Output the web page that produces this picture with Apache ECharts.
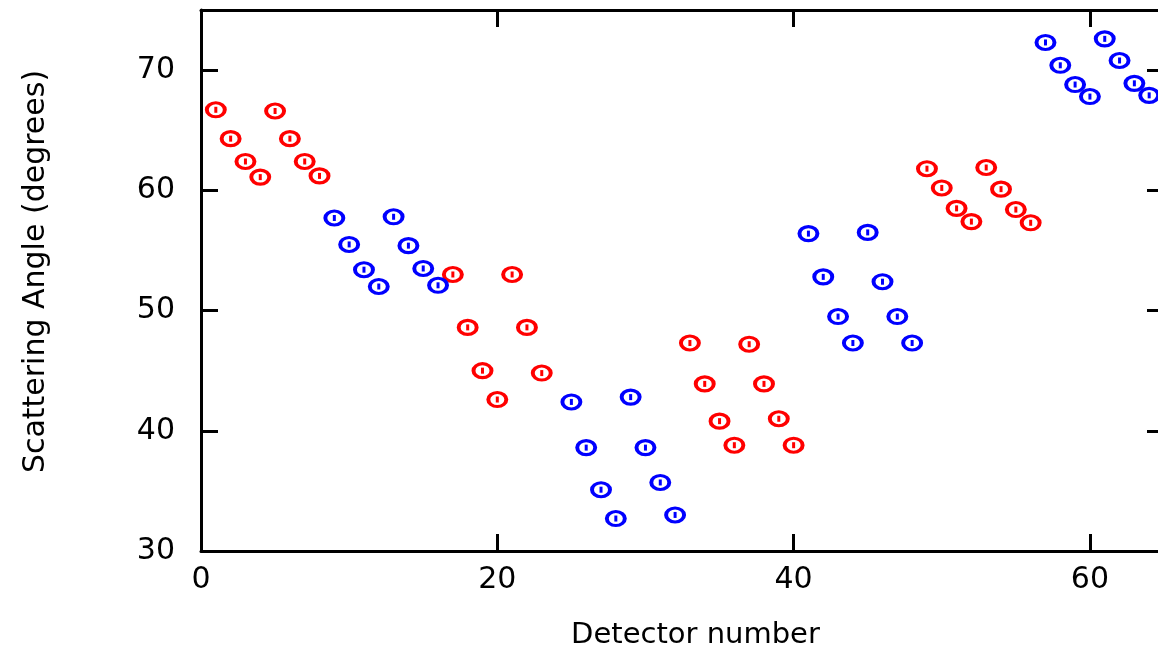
<!DOCTYPE html>
<html>
<head>
<meta charset="utf-8">
<script src="https://cdn.jsdelivr.net/npm/echarts@6/dist/echarts.min.js"></script>
<style>
  html, body { margin: 0; padding: 0; background: #fff; }
  #chart { width: 1158px; height: 652px; }
</style>
</head>
<body>
<div id="chart"></div>
<script>
// detector numbers and scattering angles (degrees), red and blue groups
const redDetectors = [1, 2, 3, 4, 5, 6, 7, 8, 17, 18, 19, 20, 21, 22, 23, 33, 34, 35, 36, 37, 38, 39, 40, 49, 50, 51, 52, 53, 54, 55, 56];
const redAngles = [66.7, 64.3, 62.4, 61.1, 66.6, 64.3, 62.4, 61.2, 53.0, 48.6, 45.0, 42.6, 53.0, 48.6, 44.8, 47.3, 43.9, 40.8, 38.8, 47.2, 43.9, 41.0, 38.8, 61.8, 60.2, 58.5, 57.4, 61.9, 60.1, 58.4, 57.3];
const blueDetectors = [9, 10, 11, 12, 13, 14, 15, 16, 25, 26, 27, 28, 29, 30, 31, 32, 41, 42, 43, 44, 45, 46, 47, 48, 57, 58, 59, 60, 61, 62, 63, 64];
const blueAngles = [57.7, 55.5, 53.4, 52.0, 57.8, 55.4, 53.5, 52.1, 42.4, 38.6, 35.1, 32.7, 42.8, 38.6, 35.7, 33.0, 56.4, 52.8, 49.5, 47.3, 56.5, 52.4, 49.5, 47.3, 72.3, 70.4, 68.8, 67.8, 72.6, 70.8, 68.9, 67.9];
const xTicks = [0, 20, 40, 60];
const yTicks = [30, 40, 50, 60, 70];

const FONT = 'DejaVu Sans';
// ellipse drawn at its own size so the ring keeps its stroke
const ellipse = 'path://M0,7A9,7 0 1,1 18,7A9,7 0 1,1 0,7Z';

const pairs = (xs, ys) => xs.map((x, i) => [x, ys[i]]);

const ringSeries = (name, xs, ys, color) => ({
  name, type: 'scatter', xAxisIndex: 0, yAxisIndex: 0,
  symbol: ellipse, symbolSize: [18, 14],
  itemStyle: { color: 'rgba(0,0,0,0)', borderColor: color, borderWidth: 3.5, opacity: 1 },
  data: pairs(xs, ys)
});
const dotSeries = (name, xs, ys, color) => ({
  name, type: 'scatter', xAxisIndex: 0, yAxisIndex: 0, silent: true,
  symbol: 'rect', symbolSize: [3, 6],
  itemStyle: { color, opacity: 1 },
  data: pairs(xs, ys)
});

const line = { show: true, onZero: false, lineStyle: { color: '#000', width: 3 } };
const tick = { show: true, inside: true, length: 17, lineStyle: { color: '#000', width: 3 } };

const chart = echarts.init(document.getElementById('chart'), null, { renderer: 'canvas' });
chart.setOption({
  animation: false,
  backgroundColor: '#fff',
  grid: { left: 201, top: 10, width: 963, height: 541, show: false, outerBoundsMode: 'none', containLabel: false },
  xAxis: [{
    type: 'value', position: 'bottom', min: xTicks[0], max: 65, interval: 20,
    axisLine: line, axisTick: tick, splitLine: { show: false },
    axisLabel: { color: '#000', fontFamily: FONT, fontSize: 30, margin: 14, showMaxLabel: false },
    name: 'Detector number', nameLocation: 'middle', nameGap: 70,
    nameTextStyle: { color: '#000', fontFamily: FONT, fontSize: 29, padding: [0, 0, 0, 26] }
  }, {
    type: 'value', position: 'top', min: xTicks[0], max: 65, interval: 20,
    axisLine: line, axisTick: tick, splitLine: { show: false },
    axisLabel: { show: false }
  }],
  yAxis: [{
    type: 'value', position: 'left', min: yTicks[0], max: 75, interval: 10,
    axisLine: line, axisTick: tick, splitLine: { show: false },
    axisLabel: { color: '#000', fontFamily: FONT, fontSize: 30, margin: 26, showMaxLabel: false },
    name: 'Scattering Angle (degrees)', nameLocation: 'middle', nameGap: 150,
    nameTextStyle: { color: '#000', fontFamily: FONT, fontSize: 30, padding: [0, 0, 0, 18] }
  }, {
    type: 'value', position: 'right', min: yTicks[0], max: 75, interval: 10,
    axisLine: line, axisTick: tick, splitLine: { show: false },
    axisLabel: { show: false }
  }],
  series: [
    ringSeries('red', redDetectors, redAngles, '#ff0000'),
    dotSeries('red centre', redDetectors, redAngles, '#ff0000'),
    ringSeries('blue', blueDetectors, blueAngles, '#0000ff'),
    dotSeries('blue centre', blueDetectors, blueAngles, '#0000ff')
  ]
});
window.addEventListener('resize', () => chart.resize());
</script>
</body>
</html>
